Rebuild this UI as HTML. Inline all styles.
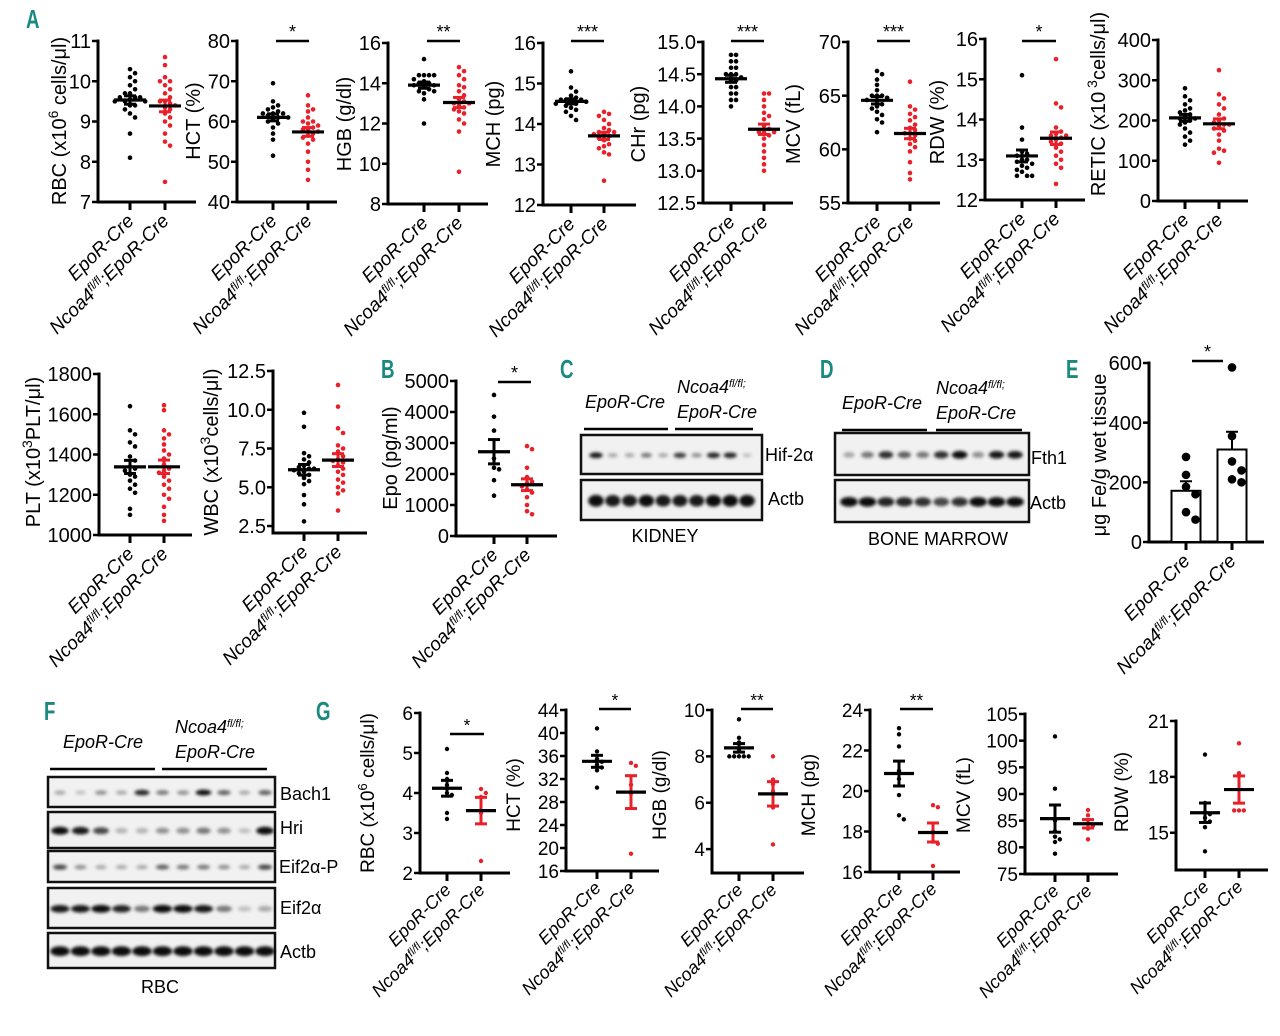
<!DOCTYPE html>
<html><head><meta charset="utf-8">
<style>
html,body{margin:0;padding:0;background:#fff;}
svg{display:block;font-family:"Liberation Sans",Arial,sans-serif;}
</style></head>
<body>
<svg id="fig" width="1280" height="1036" viewBox="0 0 1280 1036" xmlns="http://www.w3.org/2000/svg">
<defs>
<filter id="blur" x="-50%" y="-100%" width="200%" height="300%"><feGaussianBlur stdDeviation="1.6"/></filter>
</defs>
</svg>
<script>
// ---------- DATA ----------
const groupNames = ["EpoR-Cre", "Ncoa4fl/fl;EpoR-Cre"];
const rbcCtrl = [10.3,10.2,10.1,10.0,9.9,9.8,9.7,9.7,9.6,9.6,9.55,9.5,9.5,9.5,9.4,9.4,9.3,9.2,9.1,8.7,8.1,9.6];
const rbcKo = [10.6,10.4,10.1,10.0,10.0,9.9,9.8,9.7,9.6,9.5,9.5,9.4,9.3,9.2,9.1,9.0,8.9,8.7,8.5,8.4,7.5,9.45,9.35];
const hctCtrl = [69.5,65,64,63.5,63,62.5,62,62,61.5,61,60.5,60,59.5,58.5,57,55.5,51.5,62,61];
const hctKo = [66.5,64,63,62.5,61,60,59.5,59,58.5,58,57.5,57,56.5,56,55.5,54.5,52.5,50,48,45.5,60,58];
const hgbCtrl = [15.2,14.4,14.4,14.4,14.4,14.2,14,14,13.9,13.8,13.7,13.6,13.6,13.5,13.2,12.0,13.9,14.1];
const hgbKo = [14.8,14.6,14.4,14.2,13.9,13.8,13.6,13.4,13.2,13.1,13,12.9,12.8,12.7,12.6,12.5,12.2,12.0,11.6,9.6,13.0];
const mchCtrl = [15.3,14.9,14.8,14.7,14.65,14.6,14.6,14.55,14.5,14.5,14.45,14.4,14.35,14.3,14.2,14.1,14.6,14.55];
const mchKo = [14.3,14.25,14.2,14.1,14.0,13.9,13.85,13.8,13.75,13.7,13.65,13.6,13.5,13.45,13.4,13.3,13.25,12.6,13.8,13.75];
const chrCtrl = [14.8,14.8,14.7,14.7,14.6,14.6,14.5,14.5,14.45,14.4,14.4,14.3,14.3,14.2,14.2,14.1,14.1,14.0,14.5];
const chrKo = [14.2,14.2,14.1,14.0,13.9,13.85,13.8,13.7,13.65,13.6,13.55,13.5,13.4,13.3,13.2,13.1,13.0,13.6,13.6];
const mcvCtrl = [67.3,67,66.5,66,65.5,65,65,64.8,64.6,64.5,64.2,64,63.8,63.5,63.2,62.8,62.5,61.6,65];
const mcvKo = [66.3,64,63.7,63.3,63,62.7,62.3,62,61.8,61.5,61.3,61,60.8,60.5,60.2,59.8,58.8,57.8,57.2,61.5];
const rdwCtrl = [15.1,13.8,13.5,13.2,13.15,13.1,13.0,13.0,12.95,12.9,12.85,12.8,12.75,12.7,12.6,12.6,12.6];
const rdwKo = [15.5,14.4,14.3,13.8,13.7,13.65,13.6,13.55,13.5,13.45,13.4,13.3,13.2,13.1,13.0,12.9,12.8,12.4,13.6];
const reticCtrl = [280,260,250,240,230,225,220,210,205,200,195,190,180,170,160,150,140,215,205];
const reticKo = [325,265,255,240,230,215,205,200,195,190,185,180,175,165,150,130,125,120,95,190];
const pltCtrl = [1640,1520,1500,1460,1440,1390,1370,1340,1320,1300,1290,1270,1250,1230,1210,1130,1100,1330];
const pltKo = [1645,1620,1520,1500,1480,1450,1420,1400,1380,1350,1330,1310,1290,1270,1250,1230,1200,1180,1140,1100,1070,1320];
const wbcCtrl = [9.8,8.9,7.2,7.0,6.8,6.6,6.4,6.3,6.2,6.1,6.0,5.9,5.8,5.6,5.4,5.2,4.5,3.9,2.8,6.2];
const wbcKo = [11.6,10.2,8.8,8.5,7.7,7.5,7.3,7.0,6.8,6.6,6.4,6.2,6.0,5.8,5.5,5.3,5.0,4.8,4.6,3.5,6.7];
const epoCtrl = [4550,3850,3400,2500,2200,2150,1800,1300];
const epoKo = [2900,2800,2200,1900,1750,1700,1600,1500,1400,1250,1000,800,700];
const feCtrl = [285,225,185,160,100,75];
const feKo = [585,355,270,240,210,200];
const gRbcCtrl = [5.1,4.5,4.35,4.2,4.0,3.95,3.5,3.35];
const gRbcKo = [4.1,4.0,3.9,3.5,2.3];
const gHctCtrl = [40.8,36.8,35.5,35,34.5,34,33.5,30.5];
const gHctKo = [34.8,34.3,31,29.5,19];
const gHgbCtrl = [9.6,8.8,8.6,8.3,8.0,8.0,8.0,8.0,8.0];
const gHgbKo = [8.0,7.0,6.8,6.5,5.8,4.2];
const gMchCtrl = [23.1,22.8,22.2,21.0,20.6,19.8,18.8,18.6];
const gMchKo = [19.3,19.2,18.0,17.4,17.5,16.3];
const gMcvCtrl = [100.8,91,85,83,82,81.5,81,78.8];
const gMcvKo = [87,86,84.5,84,83.5,81.5];
const gRdwCtrl = [19.2,16.6,16.1,16.0,15.8,15.6,15.3,14.0];
const gRdwKo = [19.8,18.2,16.2,16.2,16.2];
// western blot band intensities (0..1)
const kidneyHif = [0.9,0.3,0.3,0.5,0.3,0.75,0.4,0.85,0.85,0.2];
const kidneyActb = [0.95,0.9,0.9,0.95,0.9,0.9,0.9,0.95,0.95,0.95];
const bmFth1 = [0.3,0.5,0.8,0.6,0.5,0.8,0.95,0.4,0.9,0.9];
const bmActb = [0.95,0.95,0.85,0.85,0.8,0.7,0.8,0.95,0.95,0.95];
const rbcBach1 = [0.3,0.2,0.4,0.3,0.85,0.5,0.4,0.95,0.6,0.3,0.6];
const rbcHri = [0.95,0.9,0.7,0.25,0.25,0.4,0.4,0.5,0.4,0.2,0.95];
const rbcEif2aP = [0.7,0.4,0.3,0.3,0.3,0.6,0.5,0.5,0.4,0.3,0.7];
const rbcEif2a = [0.9,0.9,0.95,0.85,0.5,0.95,0.95,0.9,0.5,0.2,0.3];
const rbcActb = [0.95,0.95,0.95,0.95,0.95,0.95,0.95,0.95,0.95,0.95,0.95];

// ---------- helpers ----------
const svg = document.getElementById('fig');
const NS = 'http://www.w3.org/2000/svg';
function mk(tag, attrs, parent){ const e=document.createElementNS(NS,tag); for(const k in attrs) e.setAttribute(k,attrs[k]); (parent||svg).appendChild(e); return e; }
function line(g,x1,y1,x2,y2,w,c){ return mk('line',{x1,y1,x2,y2,stroke:c||'#000','stroke-width':w||3},g); }
function mean(a){ return a.reduce((s,v)=>s+v,0)/a.length; }
function sem(a){ const m=mean(a); const sd=Math.sqrt(a.reduce((s,v)=>s+(v-m)*(v-m),0)/(a.length-1)); return sd/Math.sqrt(a.length); }
const RED='#e8202a';

function addTitle(g,x,y,segs,fs){
  const t=mk('text',{x:0,y:0,'font-size':fs,'text-anchor':'middle',transform:`translate(${x},${y}) rotate(-90)`},g);
  
  
  segs.forEach(s=>{ const ts=mk('tspan',{},t); ts.textContent=s[0]; if(s[1]){ts.setAttribute('baseline-shift','super');ts.setAttribute('font-size',fs*0.7);} });
}
function addXLabels(g,p,fs){
  const yb=p.bottom+p.lo;
  const t1=mk('text',{'font-size':fs,'font-style':'italic','text-anchor':'end',transform:`translate(${p.g1+5},${yb}) rotate(-45)`},g);
  t1.textContent='EpoR-Cre';
  
  
  const t2=mk('text',{'font-size':fs,'font-style':'italic','text-anchor':'end',transform:`translate(${p.g2+5},${yb}) rotate(-45)`},g);
  
  
  const a=mk('tspan',{},t2); a.textContent='Ncoa4';
  const b=mk('tspan',{'baseline-shift':'super','font-size':fs*0.62},t2); b.textContent='fl/fl';
  const c=mk('tspan',{'baseline-shift':'0'},t2); c.textContent=';EpoR-Cre';
}
function beeswarm(vals,ys,r){
  const order=vals.map((v,i)=>i).sort((a,b)=>ys[a]-ys[b]);
  const placed=[]; const off=new Array(vals.length).fill(0);
  const cands=[0,1,-1,2,-2,3,-3,4,-4,5,-5];
  order.forEach(i=>{
    for(const c of cands){ const dx=c*r*2.2; let ok=true;
      for(const p of placed){ const ddx=p.x-dx, ddy=p.y-ys[i]; if(ddx*ddx+ddy*ddy<(r*2.1)*(r*2.1)){ok=false;break;} }
      if(ok){off[i]=dx;placed.push({x:dx,y:ys[i]});break;}
    }
  });
  return off;
}

function panel(p, d1, d2){
  const g=mk('g',{});
  
  
  const yS=v=>p.bottom-(v-p.ymin)/(p.ymax-p.ymin)*(p.bottom-p.axTop);
  const axTopY=yS(p.ymax);
  line(g,p.ax,axTopY-1.5,p.ax,p.bottom+1.5,p.aw);
  line(g,p.ax,p.bottom,p.end,p.bottom,p.aw);
  p.ticks.forEach(tv=>{ const y=yS(tv); line(g,p.ax-6,y,p.ax,y,2.5);
    const t=mk('text',{x:p.ax-7,y:y+p.fs*0.36,'font-size':p.fs,'text-anchor':'end'},g);
    
    
    t.textContent=p.fmt?tv.toFixed(p.fmt):tv; });
  [p.g1,p.g2].forEach(gx=>line(g,gx,p.bottom,gx,p.bottom+8,3));
  addTitle(g,p.tx,p.ty,p.title,p.tfs||p.fs);
  addXLabels(g,p,p.lfs);
  [[d1,p.g1,'#000'],[d2,p.g2,RED]].forEach(([d,gx,col],gi)=>{
    const ys=d.map(yS); const off=beeswarm(d,ys,p.r);
    if(p.bar){ const m=mean(d),s=sem(d);
      const bar=mk('rect',{x:gx-p.bar/2,y:yS(m),width:p.bar,height:p.bottom-yS(m),fill:'#fff',stroke:'#000','stroke-width':2},g);
      
      
      line(g,gx,yS(m),gx,yS(m+s),2); line(g,gx-6,yS(m+s),gx+6,yS(m+s),2);
    }
    d.forEach((v,i)=>{ const c=mk('circle',{cx:gx+off[i],cy:ys[i],r:p.r,fill:p.bar?'#000':col},g);
      
       });
    if(!p.bar){ const m=mean(d),s=sem(d);
      const ec=gi?RED:'#000';
      line(g,gx,yS(m+s),gx,yS(m-s),3,ec);
      line(g,gx-p.cap,yS(m+s),gx+p.cap,yS(m+s),3,ec);
      line(g,gx-p.cap,yS(m-s),gx+p.cap,yS(m-s),3,ec);
      const ml=line(g,gx-p.mw,yS(m),gx+p.mw,yS(m),3.2,'#000');
      
      
    }
  });
  if(p.sig){ const [x1,x2,y,s]=p.sig; line(g,x1,y,x2,y,2.5);
    const t=mk('text',{x:(x1+x2)/2,y:y-3,'font-size':p.fs*0.9,'text-anchor':'middle'},g);
    
    
    t.textContent=s; }
}

function letter(x,y,s){ const t=mk('text',{x,y,'font-size':26,'font-weight':'bold',fill:'#1a8a80',transform:`translate(${x},${y}) scale(0.72,1) translate(${-x},${-y})`});
  
  
  t.textContent=s; }

// ---------- Row A ----------
const A = {axTop:41,bottom:202,aw:3,fs:20,lfs:19,tfs:20,r:2.3,cap:6,mw:16,lo:20};
const x106=[['RBC (x10'],['6',1],[' cells/μl)']];
panel(Object.assign({},A,{name:'panel-a-rbc',ax:98,end:196,g1:130,g2:165,ymin:7,ymax:11,ticks:[7,8,9,10,11],title:x106,tx:66,ty:121}),rbcCtrl,rbcKo);
panel(Object.assign({},A,{name:'panel-a-hct',ax:237,end:337,g1:273,g2:308,ymin:40,ymax:80,ticks:[40,50,60,70,80],title:[['HCT (%)']],tx:200,ty:121,sig:[276,309,41,'*']}),hctCtrl,hctKo);
panel(Object.assign({},A,{name:'panel-a-hgb',axTop:43,bottom:204,ax:388,end:488,g1:424,g2:459,ymin:8,ymax:16,ticks:[8,10,12,14,16],title:[['HGB (g/dl)']],tx:351,ty:124,sig:[427,460,41,'**']}),hgbCtrl,hgbKo);
panel(Object.assign({},A,{name:'panel-a-mch',axTop:43,bottom:205,ax:543,end:636,g1:571,g2:604,ymin:12,ymax:16,ticks:[12,13,14,15,16],title:[['MCH (pg)']],tx:500,ty:124,sig:[571,604,41,'***']}),mchCtrl,mchKo);
panel(Object.assign({},A,{name:'panel-a-chr',axTop:42,bottom:203,ax:703,end:793,g1:731,g2:764,ymin:12.5,ymax:15,fmt:1,ticks:[12.5,13,13.5,14,14.5,15],title:[['CHr (pg)']],tx:645,ty:124,sig:[731,764,41,'***']}),chrCtrl,chrKo);
panel(Object.assign({},A,{name:'panel-a-mcv',axTop:42,bottom:203,ax:848,end:940,g1:877,g2:910,ymin:55,ymax:70,ticks:[55,60,65,70],title:[['MCV (fL)']],tx:800,ty:124,sig:[877,910,41,'***']}),mcvCtrl,mcvKo);
panel(Object.assign({},A,{name:'panel-a-rdw',axTop:39,bottom:200,ax:985,end:1085,g1:1022,g2:1056,ymin:12,ymax:16,ticks:[12,13,14,15,16],title:[['RDW (%)']],tx:944,ty:122,sig:[1022,1056,41,'*']}),rdwCtrl,rdwKo);
panel(Object.assign({},A,{name:'panel-a-retic',axTop:40,bottom:201,ax:1158,end:1248,g1:1185,g2:1219,ymin:0,ymax:400,ticks:[0,100,200,300,400],title:[['RETIC (x10'],[' 3',1],['cells/μl)']],tx:1105,ty:104}),reticCtrl,reticKo);

// ---------- Row 2 ----------
const R2 = {aw:3,fs:20,lfs:19,tfs:20,r:2.3,cap:6,mw:16,lo:20};
panel(Object.assign({},R2,{name:'panel-a-plt',axTop:374,bottom:535,ax:99,end:192,g1:130,g2:164,ymin:1000,ymax:1800,ticks:[1000,1200,1400,1600,1800],title:[['PLT (x10'],['3',1],['PLT/μl)']],tx:40,ty:452}),pltCtrl,pltKo);
panel(Object.assign({},R2,{name:'panel-a-wbc',axTop:371,bottom:533,ax:273,end:367,g1:304,g2:338,ymin:2.05,ymax:12.5,fmt:1,ticks:[2.5,5,7.5,10,12.5],title:[['WBC (x10'],['3',1],['cells/μl)']],tx:218,ty:452}),wbcCtrl,wbcKo);
panel(Object.assign({},R2,{name:'panel-b-epo',axTop:381,bottom:536,ax:456,end:557,g1:494,g2:527,ymin:0,ymax:5000,ticks:[0,1000,2000,3000,4000,5000],title:[['Epo  (pg/ml)']],tx:397,ty:458,sig:[498,531,382,'*']}),epoCtrl,epoKo);
panel(Object.assign({},R2,{name:'panel-e-iron',axTop:363,bottom:542,ax:1149,end:1264,g1:1186,g2:1232,ymin:0,ymax:600,ticks:[0,200,400,600],bar:29,r:4.3,title:[['μg Fe/g wet tissue']],tx:1106,ty:455,sig:[1192,1223,361,'*']}),feCtrl,feKo);

// ---------- Row G ----------
const G = {aw:3,fs:19,lfs:18,tfs:19,r:2.2,cap:6,mw:15,lo:18};
panel(Object.assign({},G,{name:'panel-g-rbc',axTop:713,bottom:873,ax:420,end:510,g1:447,g2:481,ymin:2,ymax:6,ticks:[2,3,4,5,6],title:x106,tx:374,ty:793,sig:[450,484,734,'*']}),gRbcCtrl,gRbcKo);
panel(Object.assign({},G,{name:'panel-g-hct',axTop:710,bottom:871,ax:566,end:659,g1:597,g2:631,ymin:16,ymax:44,ticks:[16,20,24,28,32,36,40,44],title:[['HCT (%)']],tx:520,ty:795,sig:[599,631,709,'*']}),gHctCtrl,gHctKo);
panel(Object.assign({},G,{name:'panel-g-hgb',axTop:710,bottom:873,ax:712,end:804,g1:739,g2:773,ymin:2.97,ymax:10,ticks:[4,6,8,10],title:[['HGB (g/dl)']],tx:666,ty:795,sig:[741,773,709,'**']}),gHgbCtrl,gHgbKo);
panel(Object.assign({},G,{name:'panel-g-mch',axTop:710,bottom:872,ax:870,end:960,g1:899,g2:933,ymin:16,ymax:24,ticks:[16,18,20,22,24],title:[['MCH (pg)']],tx:815,ty:795,sig:[900,933,709,'**']}),gMchCtrl,gMchKo);
panel(Object.assign({},G,{name:'panel-g-mcv',axTop:714,bottom:874,ax:1025,end:1118,g1:1055,g2:1088,ymin:75,ymax:105,ticks:[75,80,85,90,95,100,105],title:[['MCV (fL)']],tx:970,ty:795}),gMcvCtrl,gMcvKo);
panel(Object.assign({},G,{name:'panel-g-rdw',axTop:721,bottom:870,ax:1176,end:1268,g1:1205,g2:1239,ymin:13,ymax:21,ticks:[15,18,21],title:[['RDW (%)']],tx:1128,ty:792}),gRdwCtrl,gRdwKo);

// ---------- Blots ----------
function blot(name,x,y,w,h,vals,x0,x1,bw,bh){
  const g=mk('g',{});
  
  
  mk('rect',{x,y,width:w,height:h,fill:'#f1f1f1',stroke:'#111','stroke-width':2.5},g);
  const n=vals.length, step=(x1-x0)/(n-1);
  vals.forEach((v,i)=>{ const e=mk('ellipse',{cx:x0+i*step,cy:y+h*0.52,rx:bw*(0.6+0.4*v),ry:bh*(0.6+0.4*v),fill:'#000','fill-opacity':v,filter:'url(#blur)'},g);
    
     });
}
function label(x,y,s,fs,opts){ const t=mk('text',Object.assign({x,y,'font-size':fs},opts||{}));   t.textContent=s; return t; }
function groupHeader(x1,x2,x3,x4,ly,tx1,tx2,fs){
  line(svg,x1,ly,x2,ly,2.5); line(svg,x3,ly,x4,ly,2.5);
  label(tx1,ly-21,'EpoR-Cre',fs,{'font-style':'italic'});
  const t=label(tx2,ly-36,'Ncoa4',fs,{'font-style':'italic'});
  const s=mk('tspan',{'baseline-shift':'super','font-size':fs*0.6},t); s.textContent='fl/fl;';
  label(tx2,ly-11,'EpoR-Cre',fs,{'font-style':'italic'});
}
// C kidney
groupHeader(584,668,675,753,429,585,677,18);
blot('blot-kidney-hif2a',581,435,181,39,kidneyHif,596,747,7,3);
blot('blot-kidney-actb',581,480,181,40,kidneyActb,596,747,8,6);
label(765,461,'Hif-2α',18); label(768,505,'Actb',18);
label(665,542,'KIDNEY',18,{'text-anchor':'middle'});
// D bone marrow
groupHeader(842,927,936,1022,430,842,936,18);
blot('blot-bm-fth1',835,433,194,42,bmFth1,849,1015,8,4);
blot('blot-bm-actb',835,480,194,42,bmActb,849,1015,9,5);
label(1031,464,'Fth1',18); label(1030,509,'Actb',18);
label(938,545,'BONE MARROW',18,{'text-anchor':'middle'});
// F RBC
groupHeader(50,155,162,267,769,63,175,18);
blot('blot-rbc-bach1',48,777,227,30,rbcBach1,60,265,8,3);
blot('blot-rbc-hri',48,812,227,36,rbcHri,60,265,9,4);
blot('blot-rbc-eif2ap',48,851,227,31,rbcEif2aP,60,265,8,3);
blot('blot-rbc-eif2a',48,888,227,40,rbcEif2a,60,265,10,4);
blot('blot-rbc-actb',48,933,227,35,rbcActb,60,265,10,5);
label(280,800,'Bach1',18); label(280,834,'Hri',18); label(279,873,'Eif2α-P',18); label(280,914,'Eif2α',18); label(280,958,'Actb',18);
label(160,993,'RBC',18,{'text-anchor':'middle'});

// panel letters
letter(26,28,'A'); letter(381,378,'B'); letter(560,378,'C'); letter(820,378,'D'); letter(1066,378,'E'); letter(44,720,'F'); letter(316,720,'G');
</script>
</body></html>
